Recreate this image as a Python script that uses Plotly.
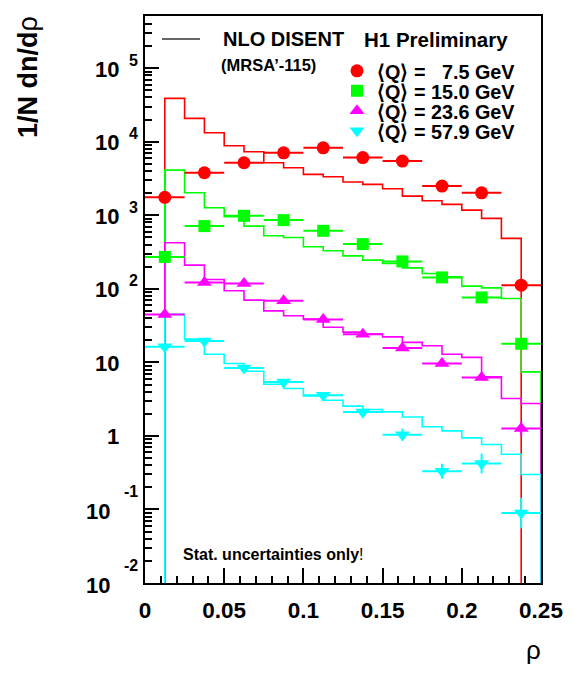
import plotly.graph_objects as go

# ---------------- data ----------------
rho_points = [0.0125, 0.0375, 0.0625, 0.0875, 0.1125, 0.1375, 0.1625, 0.1875, 0.2125, 0.2375]
rho_halfwidth = [0.0125] * 10

# measured points
q75_vals = [1754, 3788, 5180, 7080, 8280, 6100, 5460, 2496, 2023, 112]
q150_vals = [272, 713, 984, 860, 615, 406, 236, 143, 76.4, 17.9]
q236_vals = [44.9, 122, 118, 68.7, 38.3, 24.2, 15.7, 9.66, 6.23, 1.26]
q579_vals = [16.3, 19.6, 8.41, 5.43, 3.58, 2.12, 1.04, 0.331, 0.421, 0.0895]

q579_err_up = [0, 0, 0, 0, 0, 0.1, 0.215, 0.088, 0.155, 0.054]
q579_err_dn = [0, 0, 0, 0, 0, 0.08, 0.178, 0.069, 0.113, 0.034]
q236_err_up = [0, 0, 0, 0, 0, 0, 0, 0, 0.6, 0.3]
q236_err_dn = [0, 0, 0, 0, 0, 0, 0, 0, 0.5, 0.25]

# NLO DISENT histograms (bin width 0.0125, first bin [0, 0.0125] empty)
hist_bin_width = 0.0125
nlo_q75 = [0, 38900, 20800, 13250, 8830, 7310, 5180, 4430, 3600, 3340, 2830, 2630, 2295,
           1825, 1575, 1407, 1177, 908, 485, 0]
nlo_q150 = [0, 4120, 2023, 1265, 955, 713, 526, 500, 373, 329, 281, 246, 222,
            193, 162, 146, 109, 103, 74, 7.43]
nlo_q236 = [0, 423, 210, 134, 94, 70.2, 50.2, 43, 38.7, 30.1, 25.8, 24.2, 22.2,
            18.7, 16.8, 12.9, 11.7, 6.35, 3.23, 2.76]
nlo_q579 = [0, 44.9, 20.7, 12.9, 9.66, 7.59, 5.05, 4.42, 3.50, 3.06, 2.54, 2.29, 2.12,
            1.81, 1.33, 1.17, 0.94, 0.764, 0.564, 0.299]

series_names = ["\u27e8Q\u27e9 =\u00a0\u00a0 7.5 GeV", "\u27e8Q\u27e9 = 15.0 GeV",
                "\u27e8Q\u27e9 = 23.6 GeV", "\u27e8Q\u27e9 = 57.9 GeV"]
colors = ["#ff0000", "#00ff00", "#ff00ff", "#00ffff"]
symbols = ["circle", "square", "triangle-up", "triangle-down"]
msizes = [13, 12, 13, 13]

x_ticks = [0, 0.05, 0.1, 0.15, 0.2, 0.25]
y_decades = [-2, -1, 0, 1, 2, 3, 4, 5]

# ---------------- geometry helpers ----------------
# page body has an 8px margin: figure is placed at (8, 8) in the window
W, H = 557, 660
L, R, T, B = 137, 24, 8, 85
PW, PH = W - L - R, H - T - B
REF_L, REF_B = 145, 583   # plot-area left / bottom in window pixels
FONT = "Liberation Sans, Arial, Helvetica, sans-serif"
FLOOR = 1e-4


def px(xp):
    return (xp - REF_L) / PW


def py(yp):
    return (REF_B - yp) / PH


fig = go.Figure()

# histograms
hists = [nlo_q75, nlo_q150, nlo_q236, nlo_q579]
for vals, col in zip(hists, colors):
    n = len(vals)
    xs = [i * hist_bin_width for i in range(n)] + [n * hist_bin_width, n * hist_bin_width]
    ys = [v if v > 0 else FLOOR for v in vals]
    ys = ys + [ys[-1], FLOOR]
    fig.add_trace(go.Scatter(x=xs, y=ys, mode="lines", line=dict(color=col, width=1.6, shape="hv"),
                             showlegend=False, hoverinfo="skip"))

# data points
points = [q75_vals, q150_vals, q236_vals, q579_vals]
eups = [None, None, q236_err_up, q579_err_up]
edns = [None, None, q236_err_dn, q579_err_dn]
for i, (vals, col, sym, ms, name) in enumerate(zip(points, colors, symbols, msizes, series_names)):
    ey = None
    if eups[i] is not None:
        ey = dict(type="data", symmetric=False, array=eups[i], arrayminus=edns[i],
                  color=col, thickness=2, width=0)
    fig.add_trace(go.Scatter(
        x=rho_points, y=vals, mode="markers", name=name,
        marker=dict(symbol=sym, size=ms, color=col, line=dict(width=0)),
        error_x=dict(type="data", array=rho_halfwidth, color=col, thickness=2, width=0),
        error_y=ey,
        legend="legend" if i == 0 else "legend%d" % (i + 1),
        showlegend=True))

# ---------------- layout ----------------
leg_y = [71, 91, 111, 131]
legend_common = dict(xanchor="left", yanchor="middle", bgcolor="rgba(0,0,0,0)", borderwidth=0,
                     font=dict(family=FONT, size=19.8, color="black", weight="bold"),
                     itemsizing="trace")
layout_legends = {}
for i, yy in enumerate(leg_y):
    key = "legend" if i == 0 else "legend%d" % (i + 1)
    layout_legends[key] = dict(x=px(337), y=py(yy), **legend_common)

fig.update_layout(
    width=W, height=H, autosize=False,
    margin=dict(l=L, r=R, t=T, b=B, autoexpand=False),
    paper_bgcolor="white", plot_bgcolor="white",
    font=dict(family=FONT, color="black"),
    **layout_legends,
    xaxis=dict(range=[0, 0.25], tickmode="array", tickvals=x_ticks,
               ticktext=["0", "0.05", "0.1", "0.15", "0.2", "0.25"],
               ticks="inside", ticklen=15, tickwidth=1.5, tickcolor="black",
               minor=dict(ticks="inside", ticklen=7, tickwidth=1.5, tickcolor="black",
                          tickmode="linear", tick0=0, dtick=0.01),
               showline=True, linecolor="black", linewidth=2, mirror=True,
               showgrid=False, zeroline=False, ticklabelstandoff=6, automargin=False,
               tickfont=dict(family=FONT, size=22.5, color="black", weight="bold")),
    yaxis=dict(type="log", range=[-2, 5.71], tickmode="linear", tick0=0, dtick=1,
               ticks="inside", ticklen=14, tickwidth=1.5, tickcolor="black",
               minor=dict(ticks="inside", ticklen=7, tickwidth=1.5, tickcolor="black", dtick="D1"),
               showticklabels=False, automargin=False,
               showline=True, linecolor="black", linewidth=2, mirror=True,
               showgrid=False, zeroline=False),
)

ann = []
# y tick labels (ROOT-style 10^n)
for d in y_decades:
    if d == 0:
        ann.append(dict(text="<b>1</b>", xref="paper", yref="y", x=px(121), y=d, xanchor="right",
                        yanchor="middle", yshift=-1, showarrow=False, font=dict(size=22)))
    elif d == 1:
        ann.append(dict(text="<b>10</b>", xref="paper", yref="y", x=px(121), y=d, xanchor="right",
                        yanchor="middle", yshift=-1, showarrow=False, font=dict(size=22)))
    elif d > 1:
        ann.append(dict(text="<b>10</b>", xref="paper", yref="y", x=px(121), y=d, xanchor="right",
                        yanchor="middle", yshift=-1, showarrow=False, font=dict(size=22)))
        ann.append(dict(text="<b>%d</b>" % d, xref="paper", yref="y", x=px(127), y=d, xanchor="left",
                        yanchor="middle", yshift=8, showarrow=False, font=dict(size=16)))
    else:
        ann.append(dict(text="<b>10</b>", xref="paper", yref="y", x=px(112), y=d, xanchor="right",
                        yanchor="middle", yshift=-2, showarrow=False, font=dict(size=22)))
        ann.append(dict(text="<b>%d</b>" % d, xref="paper", yref="y", x=px(122), y=d, xanchor="left",
                        yanchor="middle", yshift=18, showarrow=False, font=dict(size=16)))

# axis titles
ann.append(dict(text="<b>1/N dn/d</b>\u03c1", xref="paper", yref="paper", x=px(28), y=py(77),
                xanchor="center", yanchor="middle", textangle=-90, showarrow=False,
                font=dict(size=27)))
ann.append(dict(text="\u03c1", xref="paper", yref="paper", x=px(533), y=py(650),
                xanchor="center", yanchor="middle", showarrow=False, font=dict(size=26)))

# legend header texts
ann.append(dict(text="<b>NLO DISENT</b>", xref="paper", yref="paper", x=px(221), y=py(39),
                xanchor="left", yanchor="middle", showarrow=False, font=dict(size=20)))
ann.append(dict(text="<b>H1 Preliminary</b>", xref="paper", yref="paper", x=px(362), y=py(39),
                xanchor="left", yanchor="middle", showarrow=False, font=dict(size=20.5)))
ann.append(dict(text="<b>(MRSA\u2019-115)</b>", xref="paper", yref="paper", x=px(219), y=py(65),
                xanchor="left", yanchor="middle", showarrow=False, font=dict(size=16.5)))
ann.append(dict(text="<b>Stat. uncertainties only</b>!", xref="paper", yref="paper", x=px(181),
                y=py(554), xanchor="left", yanchor="middle", showarrow=False, font=dict(size=16)))

fig.update_layout(annotations=ann)
fig.add_shape(type="line", xref="paper", yref="paper", x0=px(162), x1=px(200), y0=py(39), y1=py(39),
              line=dict(color="#333333", width=1.5))

fig.write_html("out.html")
